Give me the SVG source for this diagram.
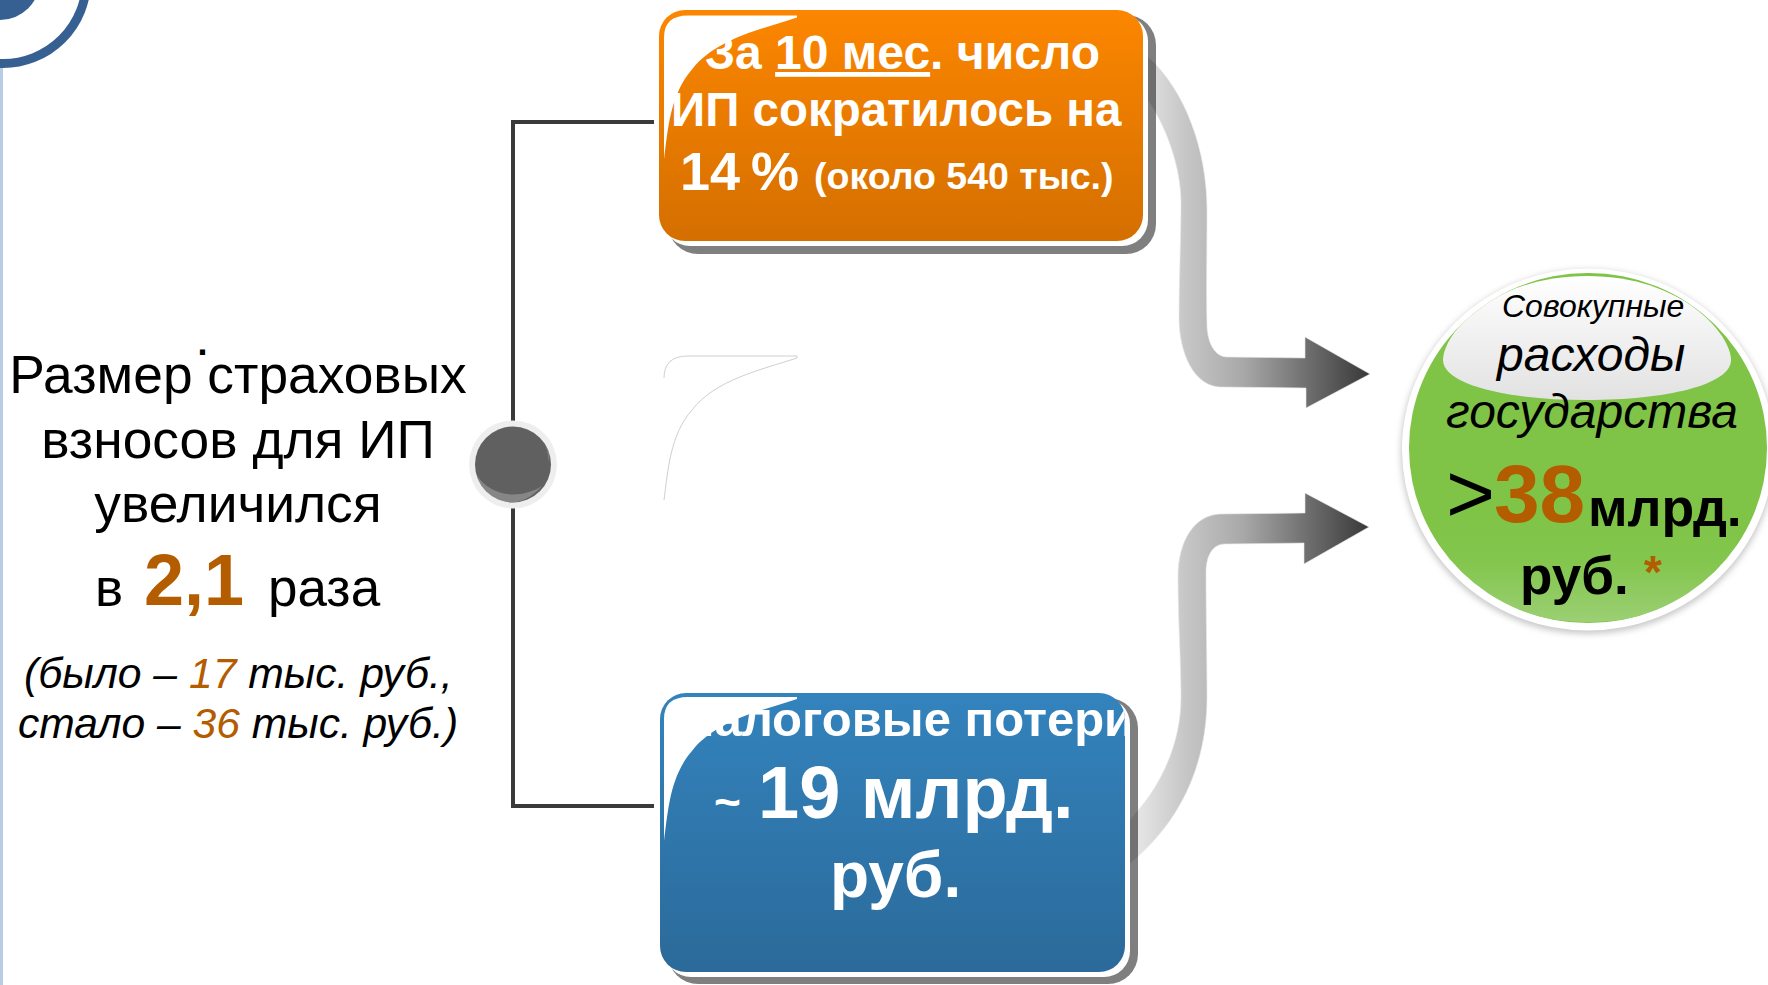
<svg xmlns="http://www.w3.org/2000/svg" width="1768" height="985" viewBox="0 0 1768 985">
<style>
text{font-family:"Liberation Sans",Arial,sans-serif}
.b{font-weight:bold}
.i{font-style:italic}
.w{fill:#fff;font-weight:bold}
.o{fill:#b35c00}
.k{fill:#000}
.sh{fill:#000;fill-opacity:.5}
.hl{fill:#fff}
.ln{fill:none;stroke:#3a3a3a;stroke-width:4}
.ar{fill:url(#arrowGrad);stroke:#e6e6e6;stroke-width:.6}
</style>
<defs>
<linearGradient id="orangeGrad" x1="0" y1="0" x2="0" y2="1"><stop offset="0" stop-color="#fc8600"/><stop offset="1" stop-color="#d46f00"/></linearGradient>
<linearGradient id="blueGrad" x1="0" y1="0" x2="0" y2="1"><stop offset="0" stop-color="#3383bd"/><stop offset="1" stop-color="#2b6a9a"/></linearGradient>
<linearGradient id="arrowGrad" gradientUnits="userSpaceOnUse" x1="1140" y1="0" x2="1370" y2="0"><stop offset="0" stop-color="#e4e4e4"/><stop offset=".2" stop-color="#c6c6c6"/><stop offset=".45" stop-color="#a8a8a8"/><stop offset=".72" stop-color="#707070"/><stop offset="1" stop-color="#383838"/></linearGradient>
<linearGradient id="topGloss" x1="0" y1="0" x2="0" y2="1"><stop offset="0" stop-color="#ffffff"/><stop offset="1" stop-color="#e2e2e2"/></linearGradient>
<linearGradient id="botGloss" x1="0" y1="0" x2="0" y2="1"><stop offset=".42" stop-color="#9dd076" stop-opacity="0"/><stop offset=".68" stop-color="#9dd076" stop-opacity=".15"/><stop offset="1" stop-color="#9dd076" stop-opacity=".95"/></linearGradient>
<clipPath id="greenClip"><ellipse cx="1588" cy="448" rx="179" ry="175"/></clipPath>
<clipPath id="blueClip"><rect x="660" y="693" width="465" height="279" rx="26"/></clipPath>
<clipPath id="hubClip"><circle cx="513" cy="464.500" r="38"/></clipPath>
<filter id="soft" x="-10%" y="-10%" width="120%" height="120%"><feGaussianBlur stdDeviation="3"/></filter>
<path id="hlShape" d="M664 500C668 470 670 435 692 410C715 380 760 370 797 358V356H688Q664 356 664 378Z"/>
</defs>
<g id="decor">
<rect x="0" y="68" width="3" height="917" fill="#b8cce4"/>
<circle cx="3" cy="-20" r="83.500" fill="none" stroke="#366092" stroke-width="9"/>
<circle cx="0" cy="-20" r="40" fill="#366092"/>
</g>
<g id="connectors">
<path class="ln" d="M654 122H513V422"/>
<path class="ln" d="M654 806H513V506"/>
<path class="ar" d="M1148 57C1185 90 1207 150 1207 210C1207 250 1206 290 1207 327C1208 345 1216 357 1227 357L1305 358V337L1370 374L1306 408V388L1220 387C1195 386 1179 355 1179 317C1179 280 1181 240 1181 203C1181 165 1165 125 1148 100Z"/>
<path class="ar" d="M1305 513L1220 514C1195 515 1178 540 1178 577C1178 620 1181 660 1181 697C1181 745 1160 790 1125 825L1125 867C1180 825 1207 765 1207 697C1207 660 1206 615 1206 573C1206 555 1213 544 1225 544L1304 543V564L1369 527L1305 493Z"/>
</g>
<g id="ghost">
<path d="M664 378Q664 356 688 356H797V358C760 370 715 380 692 410C670 435 668 470 664 500" fill="#fff" stroke="#cfcfcf" stroke-width="1"/>
</g>
<g id="node-orange">
<rect class="sh" x="668" y="15" width="488" height="239" rx="30"/>
<rect x="664" y="15" width="484" height="231" rx="26" fill="#fff"/>
<rect x="659" y="10" width="484" height="231" rx="26" fill="url(#orangeGrad)"/>
<use href="#hlShape" class="hl" transform="translate(0 -340.500)"/>
<text class="w" x="705" y="69" font-size="48">За <tspan text-decoration="underline">10 мес</tspan>. число</text>
<text class="w" x="671" y="126" font-size="47.500">ИП сократилось на</text>
<text class="w" x="680" y="190" font-size="54" word-spacing="-4">14 %</text>
<text class="w" x="814" y="189" font-size="37.500">(около 540 тыс.)</text>
</g>
<g id="node-blue">
<rect class="sh" x="668" y="698" width="470" height="286" rx="30"/>
<rect x="665" y="698" width="465" height="279" rx="26" fill="#fff"/>
<rect x="660" y="693" width="465" height="279" rx="26" fill="url(#blueGrad)"/>
<use href="#hlShape" class="hl" transform="translate(0 341)"/>
<g clip-path="url(#blueClip)"><text class="w" x="679" y="736" font-size="49">Налоговые потери</text></g>
<text class="w" x="714" y="818" font-size="46">~</text>
<text class="w" x="758" y="818" font-size="74">19 млрд.</text>
<text class="w" x="830" y="897" font-size="64">руб.</text>
</g>
<g id="node-total">
<ellipse cx="1588" cy="452" rx="187" ry="182" fill="#c8c8c8" filter="url(#soft)"/>
<ellipse cx="1588" cy="449.500" rx="186" ry="181" fill="#fff"/>
<ellipse cx="1588" cy="448" rx="179" ry="175" fill="#7fc447"/>
<g clip-path="url(#greenClip)">
<path d="M1443 360C1443 335 1490 276 1587 276C1684 276 1731 335 1731 360C1731 385 1665 400 1587 400C1509 400 1443 385 1443 360Z" fill="url(#topGloss)"/>
<ellipse cx="1588" cy="530" rx="150" ry="92" fill="url(#botGloss)"/>
</g>
<text class="i k" x="1502" y="317" font-size="32">Совокупные</text>
<text class="i k" x="1497" y="371" font-size="48">расходы</text>
<text class="i k" x="1446" y="428" font-size="48">государства</text>
<text class="k" x="1446" y="522" font-size="84">&gt;</text>
<text class="b o" x="1494" y="522" font-size="82">38</text>
<text class="b k" x="1588" y="526" font-size="53.500">млрд.</text>
<text class="b k" x="1520" y="594" font-size="53">руб.</text>
<text class="b o" x="1644" y="588" font-size="46">*</text>
</g>
<g id="node-hub">
<circle cx="513" cy="464.500" r="44" fill="#eeeeee"/>
<circle cx="513" cy="464.500" r="38" fill="#606060"/>
<g clip-path="url(#hubClip)">
<path d="M476 474C490 497 520 500 542 486C530 500 515 504 505 503C488 500 478 490 476 474Z" fill="#a0a0a0" fill-opacity=".6"/>
<path d="M530 428C544 436 549 450 548 462C553 450 548 432 530 428Z" fill="#a0a0a0" fill-opacity=".45"/>
</g>
</g>
<g id="label-left">
<text class="k" x="238" y="393" font-size="53.300" text-anchor="middle">Размер страховых</text>
<text class="k b" x="197.500" y="355" font-size="36">.</text>
<text class="k" x="238" y="458" font-size="53.300" text-anchor="middle">взносов для ИП</text>
<text class="k" x="238" y="522" font-size="53.300" text-anchor="middle">увеличился</text>
<text class="k" x="95" y="606" font-size="53">в</text>
<text class="b o" x="144" y="605" font-size="72">2,1</text>
<text class="k" x="268" y="606" font-size="53">раза</text>
<text class="i k" x="24" y="688" font-size="42.700">(было – <tspan class="o">17</tspan> тыс. руб.,</text>
<text class="i k" x="18" y="738" font-size="42.600">стало – <tspan class="o">36</tspan> тыс. руб.)</text>
</g>
</svg>
